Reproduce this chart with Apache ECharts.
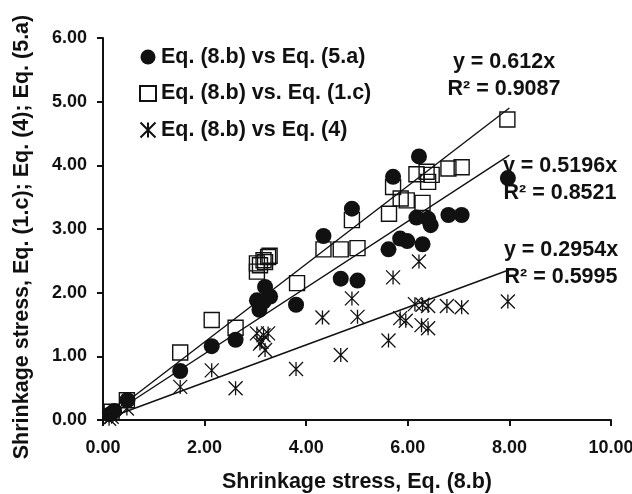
<!DOCTYPE html>
<html>
<head>
<meta charset="utf-8">
<script src="https://cdn.jsdelivr.net/npm/echarts@6/dist/echarts.min.js"></script>
<style>
  html, body { margin: 0; padding: 0; background: #fff; }
  #main { width: 632px; height: 494px; }
</style>
</head>
<body>
<div id="main"></div>
<script>
// Eq. (8.b) vs Eq. (5.a) -> filled circles
const pts5a = [
  [0.14, 0.09], [0.22, 0.14], [0.48, 0.31], [1.52, 0.77], [2.14, 1.16], [2.61, 1.26],
  [3.03, 1.88], [3.08, 1.73], [3.19, 2.09], [3.29, 1.94], [3.16, 1.86], [3.80, 1.81],
  [4.34, 2.89], [4.90, 3.32], [5.71, 3.82], [6.22, 4.14], [6.17, 3.18], [6.40, 3.16],
  [6.45, 3.06], [6.80, 3.22], [7.06, 3.22], [5.62, 2.68], [5.85, 2.85], [5.99, 2.81],
  [6.29, 2.76], [4.68, 2.22], [5.01, 2.19], [7.97, 3.80]
];
// Eq. (8.b) vs. Eq. (1.c) -> open squares
const pts1c = [
  [0.17, 0.13], [0.47, 0.31], [1.52, 1.06], [2.14, 1.57], [2.61, 1.45], [3.03, 2.46],
  [3.16, 2.51], [3.25, 2.56], [3.03, 2.33], [3.09, 2.43], [3.19, 2.48], [3.28, 2.58],
  [3.82, 2.15], [4.34, 2.68], [4.68, 2.68], [5.01, 2.70], [4.90, 3.14], [5.63, 3.24],
  [5.71, 3.66], [5.86, 3.48], [5.98, 3.45], [6.29, 3.41], [6.17, 3.86], [6.37, 3.90],
  [6.47, 3.85], [6.40, 3.74], [6.80, 3.95], [7.06, 3.97], [7.96, 4.72]
];
// Eq. (8.b) vs Eq. (4) -> asterisks
const pts4 = [
  [0.12, 0.02], [0.17, 0.05], [0.47, 0.18], [1.52, 0.52], [2.14, 0.78], [2.61, 0.50],
  [3.03, 1.36], [3.16, 1.33], [3.25, 1.36], [3.12, 1.23], [3.19, 1.10], [3.09, 1.20],
  [3.80, 0.80], [4.32, 1.61], [4.68, 1.02], [4.90, 1.91], [5.01, 1.62], [5.62, 1.25],
  [5.71, 2.24], [5.85, 1.60], [5.96, 1.56], [6.22, 2.49], [6.14, 1.82], [6.29, 1.81],
  [6.40, 1.79], [6.27, 1.49], [6.40, 1.44], [6.77, 1.79], [7.06, 1.77], [7.97, 1.86]
];
// trend lines through the origin, end points
const fit1c = [[0, 0], [8, 4.90]];
const fit5a = [[0, 0], [8, 4.16]];
const fit4 = [[0, 0], [8, 2.36]];

const names = ['Eq. (8.b) vs Eq. (5.a)', 'Eq. (8.b) vs. Eq. (1.c)', 'Eq. (8.b) vs Eq. (4)'];
const fitText = [
  ['y = 0.612x', 'R² = 0.9087'],
  ['y = 0.5196x', 'R² = 0.8521'],
  ['y = 0.2954x', 'R² = 0.5995']
];

const ink = '#111';
const font = 'Liberation Sans, Arial, sans-serif';
const bigText = 'bold 21.5px ' + font;
const starPath = 'path://M0,0L10,10M10,0L0,10M5,0L5,10';

const chart = echarts.init(document.getElementById('main'));

function fitLine(data) {
  return {
    type: 'line',
    data: data,
    symbol: 'none',
    silent: true,
    lineStyle: { color: ink, width: 1.4 },
    z: 3
  };
}

function eqLabel(lines, cx, y) {
  return [
    { type: 'text', x: cx, y: y, style: { text: lines[0], font: bigText, fill: ink, align: 'center', verticalAlign: 'middle' } },
    { type: 'text', x: cx, y: y + 27, style: { text: lines[1], font: bigText, fill: ink, align: 'center', verticalAlign: 'middle' } }
  ];
}

const option = {
  backgroundColor: '#fff',
  animation: false,
  grid: { left: 103, right: 21, top: 38, bottom: 74, outerBoundsMode: 'none' },
  legend: {
    orient: 'vertical',
    left: 134,
    top: 41,
    itemGap: 14.5,
    itemWidth: 16,
    itemHeight: 15,
    textStyle: { fontFamily: font, fontSize: 21.5, fontWeight: 'bold', color: ink },
    data: names
  },
  xAxis: {
    type: 'value',
    min: 0,
    max: 10,
    interval: 2,
    name: 'Shrinkage stress, Eq. (8.b)',
    nameLocation: 'middle',
    nameGap: 51,
    nameTextStyle: { fontFamily: font, fontSize: 21.5, fontWeight: 'bold', color: ink },
    axisLine: { lineStyle: { color: ink, width: 2 } },
    axisTick: { length: 6, lineStyle: { color: ink, width: 2 } },
    axisLabel: { margin: 19, fontFamily: font, fontSize: 18, fontWeight: 'bold', color: ink, formatter: v => v.toFixed(2) },
    splitLine: { show: false }
  },
  yAxis: {
    type: 'value',
    min: 0,
    max: 6,
    interval: 1,
    axisLine: { show: true, lineStyle: { color: ink, width: 2 } },
    axisTick: { show: true, length: 6, lineStyle: { color: ink, width: 2 } },
    axisLabel: { margin: 16, fontFamily: font, fontSize: 18, fontWeight: 'bold', color: ink, formatter: v => v.toFixed(2) },
    splitLine: { show: false }
  },
  graphic: [
    {
      type: 'text', x: 22, y: 237, rotation: Math.PI / 2,
      style: { text: 'Shrinkage stress, Eq. (1.c); Eq. (4); Eq. (5.a)', font: bigText, fill: ink, align: 'center', verticalAlign: 'middle' }
    }
  ].concat(eqLabel(fitText[0], 504, 62), eqLabel(fitText[1], 560, 166), eqLabel(fitText[2], 561, 250)),
  series: [
    {
      name: names[0], type: 'scatter', data: pts5a, symbol: 'circle', symbolSize: 16,
      itemStyle: { color: ink, opacity: 1 }, z: 5
    },
    {
      name: names[1], type: 'scatter', data: pts1c, symbol: 'rect', symbolSize: 15,
      itemStyle: { color: 'rgba(255,255,255,0)', borderColor: ink, borderWidth: 1.4, opacity: 1 }, z: 4
    },
    {
      name: names[2], type: 'scatter', data: pts4, symbol: starPath, symbolSize: 14,
      itemStyle: { color: 'rgba(255,255,255,0)', borderColor: ink, borderWidth: 1.3, opacity: 1 }, z: 4
    },
    fitLine(fit1c),
    fitLine(fit5a),
    fitLine(fit4)
  ]
};

chart.setOption(option);
</script>
</body>
</html>
